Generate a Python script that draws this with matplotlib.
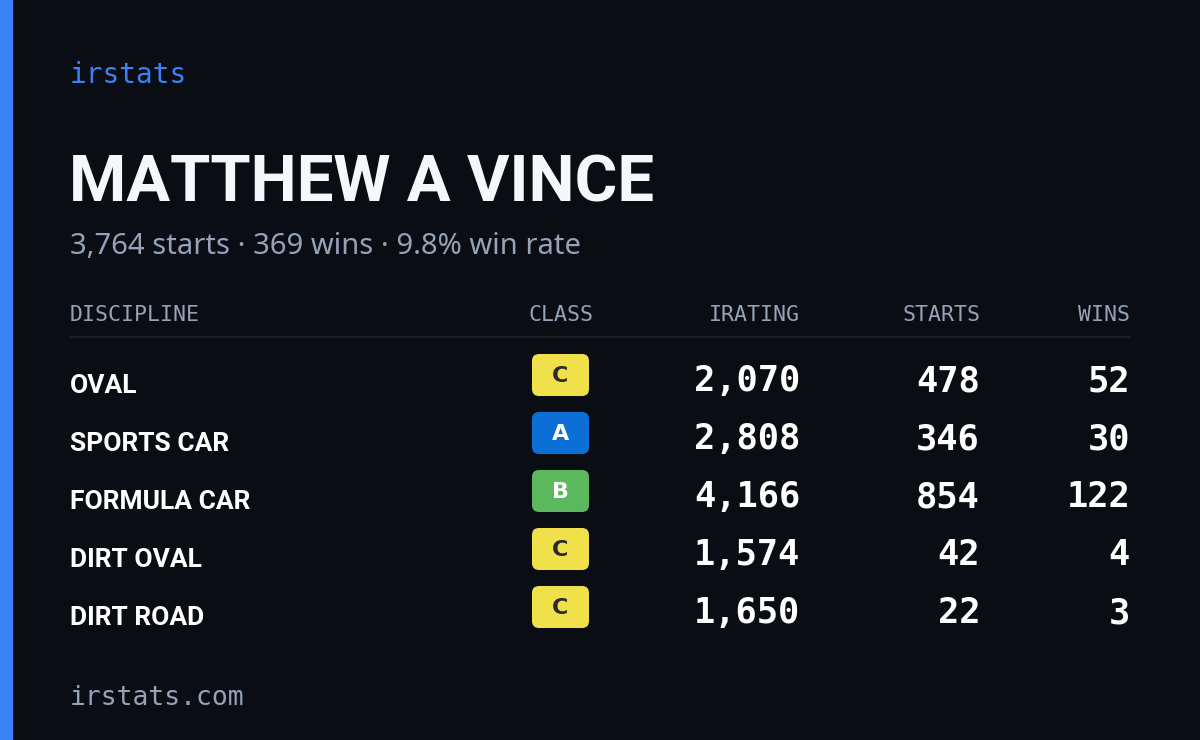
import matplotlib
matplotlib.use("Agg")
import matplotlib.pyplot as plt
from matplotlib.patches import Rectangle, FancyBboxPatch

disciplines = ["OVAL", "SPORTS CAR", "FORMULA CAR", "DIRT OVAL", "DIRT ROAD"]
classes = ["C", "A", "B", "C", "C"]
iratings = [2070, 2808, 4166, 1574, 1650]
starts = [478, 346, 854, 42, 22]
wins = [52, 30, 122, 4, 3]
headers = ["DISCIPLINE", "CLASS", "IRATING", "STARTS", "WINS"]
name = "MATTHEW A VINCE"
total_starts, total_wins, win_rate = 3764, 369, 9.8

class_colors = {"A": "#0b6fd6", "B": "#5cb85c", "C": "#f0e14a"}
class_text = {"A": "white", "B": "white", "C": "#2a2a2a"}

W, H = 1200, 740
fig = plt.figure(figsize=(12, 7.4), dpi=100)
fig.patch.set_facecolor("#0a0d14")
ax = fig.add_axes([0, 0, 1, 1])
ax.set_xlim(0, W); ax.set_ylim(H, 0); ax.axis("off")

ax.add_patch(Rectangle((0, 0), 12, H, color="#3b82f6"))
mono = "DejaVu Sans Mono"
cond = "Roboto"

ax.text(70, 75, "irstats", color="#3b82f6", fontsize=20, family=mono, va="center")
ax.text(69, 184, name, color="#f5f7fa", fontsize=47, family=cond, weight="bold", va="center")
ax.text(70, 246, f"{total_starts:,} starts · {total_wins} wins · {win_rate}% win rate",
        color="#94a3b8", fontsize=21, family="Noto Sans", va="center")

hx = [70, 593, 800, 980, 1130]
ha = ["left", "right", "right", "right", "right"]
for x, h, a in zip(hx, headers, ha):
    ax.text(x, 315, h, color="#94a3b8", fontsize=15.5, family=mono, ha=a, va="center")
ax.plot([70, 1130], [337, 337], color="#1e2330", lw=1.2)

for i in range(len(disciplines)):
    y = 380 + i * 58
    ax.text(70, y + 6, disciplines[i], color="white", fontsize=19, family=cond, weight="bold", va="center")
    c = classes[i]
    ax.add_patch(FancyBboxPatch((532, y - 26), 57, 42, boxstyle="round,pad=0,rounding_size=7",
                                color=class_colors[c], lw=0))
    ax.text(560.5, y - 4, c, color=class_text[c], fontsize=16, family="DejaVu Sans", weight="bold",
            ha="center", va="center")
    for x, v in ((800, iratings[i]), (980, starts[i]), (1130, wins[i])):
        ax.text(x, y + 1, f"{v:,}", color="white", fontsize=25.5, family=mono, weight="bold",
                ha="right", va="center")

ax.text(70, 698, "irstats.com", color="#94a3b8", fontsize=19, family=mono, va="center")
fig.savefig("out.png", dpi=100, facecolor=fig.get_facecolor())
